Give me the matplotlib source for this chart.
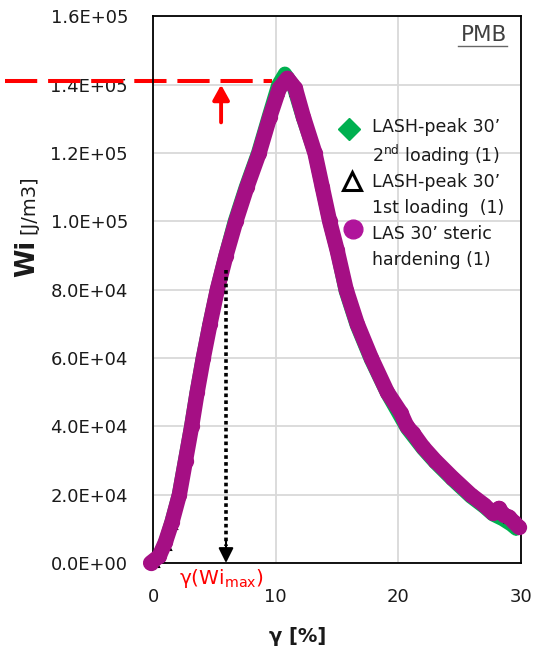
import matplotlib
matplotlib.use("Agg")
import matplotlib.pyplot as plt
from matplotlib.ticker import FuncFormatter, MultipleLocator

plt.rcParams['font.family'] = ['DejaVu Sans']
plt.rcParams['mathtext.fontset'] = 'dejavusans'

# LASH-peak 30' 2nd loading (1)
gamma_2nd = [0.0, 0.5, 1.0, 1.5, 2.1, 2.6, 3.1, 3.55, 4.05, 4.6, 5.2, 5.9, 6.65, 7.55,
             8.55, 9.45, 10.2, 10.75, 11.4, 12.2, 13.2, 13.8, 14.4, 15.0, 15.7, 16.6,
             17.75, 19.1, 20.7, 22.0, 23.0, 24.4, 25.9, 27.0, 27.7, 28.5, 29.2, 29.6]
wi_2nd = [0, 2e3, 6e3, 1.2e4, 2.0e4, 3.0e4, 4.0e4, 5.0e4, 6.0e4, 7.0e4, 8.0e4, 9.0e4,
          1.0e5, 1.1e5, 1.2e5, 1.31e5, 1.40e5, 1.433e5, 1.40e5, 1.305e5, 1.198e5, 1.097e5,
          9.97e4, 9.14e4, 7.96e4, 6.96e4, 5.96e4, 4.95e4, 3.94e4, 3.34e4, 2.94e4, 2.44e4,
          1.94e4, 1.64e4, 1.42e4, 1.28e4, 1.12e4, 1.0e4]

# LASH-peak 30' 1st loading (1)
gamma_1st = [0.2, 0.6, 1.1, 1.6, 2.2, 2.7, 3.2, 3.65, 4.15, 4.7, 5.3, 5.95, 6.8, 7.7,
             8.7, 9.55, 10.3, 10.9, 11.6, 12.3, 13.2, 14.4, 15.7, 17.75, 20.7, 23.0,
             25.9, 27.7, 29.0]
wi_1st = [0, 1.5e3, 5e3, 1.1e4, 2.0e4, 3.0e4, 4.0e4, 5.0e4, 6.0e4, 7.0e4, 8.0e4, 9.0e4,
          1.0e5, 1.1e5, 1.2e5, 1.30e5, 1.38e5, 1.41e5, 1.38e5, 1.30e5, 1.20e5, 1.0e5,
          8.0e4, 6.0e4, 4.0e4, 3.0e4, 2.0e4, 1.45e4, 1.3e4]

# LAS 30' steric hardening (1)
gamma_las = [-0.2, 0.5, 1.0, 1.55, 2.15, 2.65, 3.15, 3.6, 4.1, 4.65, 5.24, 5.95, 6.75,
             7.65, 8.65, 9.53, 10.3, 10.95, 11.6, 12.25, 13.2, 13.8, 14.4, 15.0, 15.75,
             16.65, 17.8, 19.1, 20.2, 20.7, 21.2, 22.0, 23.0, 24.4, 25.9, 27.0, 27.7,
             28.2, 28.6, 29.0, 29.4, 29.8]
wi_las = [0, 2e3, 6e3, 1.2e4, 2.0e4, 3.0e4, 4.0e4, 5.0e4, 6.0e4, 7.0e4, 8.0e4, 9.0e4,
          1.0e5, 1.1e5, 1.2e5, 1.307e5, 1.39e5, 1.419e5, 1.39e5, 1.307e5, 1.20e5, 1.10e5,
          1.0e5, 9.17e4, 8.0e4, 7.0e4, 6.0e4, 5.0e4, 4.4e4, 4.0e4, 3.8e4, 3.4e4, 3.0e4,
          2.5e4, 2.0e4, 1.7e4, 1.46e4, 1.6e4, 1.4e4, 1.35e4, 1.2e4, 1.06e4]

wi_max_level = 1.411e5     # red dashed line
gamma_wi_max = 5.95        # dotted arrow
arrow_gamma = 5.55         # red arrow

GREEN = '#00b050'
PURPLE = '#a50f84'
RED = '#ff0000'
TXT = '#1a1a1a'

fig = plt.figure(figsize=(5.42, 6.59), dpi=100)
ax = fig.add_axes([0.2823, 0.1457, 0.679, 0.8293])

ax.plot(gamma_2nd, wi_2nd, color=GREEN, lw=10, marker='D', ms=7.5, mew=0,
        solid_capstyle='round', solid_joinstyle='round', zorder=3)
ax.plot(gamma_1st, wi_1st, ls='none', marker='^', ms=6, mfc='none', mec='black',
        mew=1.5, zorder=3.5, clip_on=False)
ax.plot(gamma_las, wi_las, color=PURPLE, lw=11, marker='o', ms=11, mew=0,
        solid_capstyle='round', solid_joinstyle='round', zorder=4, clip_on=False)

ax.set_xlim(0, 30)
ax.set_ylim(0, 1.6e5)
ax.xaxis.set_major_locator(MultipleLocator(10))
ax.yaxis.set_major_locator(MultipleLocator(2e4))
ax.yaxis.set_major_formatter(FuncFormatter(lambda v, p: f"{v:.1E}"))
ax.grid(True, color='#d9d9d9', lw=1.3, zorder=0)
ax.set_axisbelow(True)
ax.tick_params(length=0, labelsize=13, colors=TXT, pad=18)
for s in ax.spines.values():
    s.set_linewidth(1.3)
    s.set_color('black')

# axis titles
ax.text(-0.342, 0.558, 'Wi', transform=ax.transAxes, rotation=90,
        ha='center', va='center', fontsize=18.5, fontweight='bold', color=TXT)
ax.text(-0.338, 0.655, '[J/m3]', transform=ax.transAxes, rotation=90,
        ha='center', va='center', fontsize=14, color=TXT)
ax.text(0.394, -0.135, 'γ [%]', transform=ax.transAxes, ha='center', va='center',
        fontsize=14, fontweight='bold', color=TXT)

# PMB tag
ax.text(0.962, 0.966, 'PMB', transform=ax.transAxes, ha='right', va='center',
        fontsize=15.5, color='#404040')
ax.plot([0.829, 0.962], [0.9466, 0.9466], transform=ax.transAxes, color='#666666',
        lw=1.0, clip_on=False)

# red dashed level + arrow
ax.plot([-12.06, 9.7], [wi_max_level, wi_max_level], color=RED, lw=2.9,
        dashes=(8, 2.7), clip_on=False, zorder=2)
ax.annotate('', xy=(arrow_gamma, 1.40e5), xytext=(arrow_gamma, 1.29e5),
            arrowprops=dict(arrowstyle='-|>,head_width=0.5,head_length=0.9',
                            color=RED, lw=2.8, shrinkA=0, shrinkB=0))

# dotted line + arrow head down to gamma(Wi max)
ax.plot([gamma_wi_max, gamma_wi_max], [8.58e4, 0.5e4], color='black', lw=2.6,
        ls=(0, (1, 0.9)), zorder=5)
ax.annotate('', xy=(gamma_wi_max, 0), xytext=(gamma_wi_max, 0.7e4),
            arrowprops=dict(arrowstyle='-|>,head_width=0.45,head_length=0.9',
                            color='black', lw=1.5, shrinkA=0, shrinkB=0),
            zorder=5)
ax.text(gamma_wi_max - 0.35, -0.46e4, r'γ(Wi$_{\mathregular{max}}$)', color=RED,
        ha='center', va='center', fontsize=14.5, clip_on=False)

# legend drawn by hand
leg_x_mark = [0.533, 0.541, 0.543]
leg_y_mark = [0.794, 0.699, 0.611]
ax.plot(leg_x_mark[0], leg_y_mark[0], marker='D', ms=11, color=GREEN,
        transform=ax.transAxes, zorder=6)
ax.plot(leg_x_mark[1], leg_y_mark[1], marker='^', ms=13, mfc='white', mec='black',
        mew=2.2, transform=ax.transAxes, zorder=6)
ax.plot(leg_x_mark[2], leg_y_mark[2], marker='o', ms=13.5, color='#b0149b',
        transform=ax.transAxes, zorder=6)
leg_lines = ['LASH-peak 30’', r'2$^{\mathregular{nd}}$ loading (1)',
             'LASH-peak 30’', '1st loading  (1)',
             'LAS 30’ steric', 'hardening (1)']
leg_line_y = [0.801, 0.752, 0.701, 0.653, 0.606, 0.558]
for t, y in zip(leg_lines, leg_line_y):
    ax.text(0.595, y, t, transform=ax.transAxes, ha='left', va='center_baseline',
            fontsize=12.5, color=TXT, zorder=6)

fig.savefig('out.png', dpi=100)
